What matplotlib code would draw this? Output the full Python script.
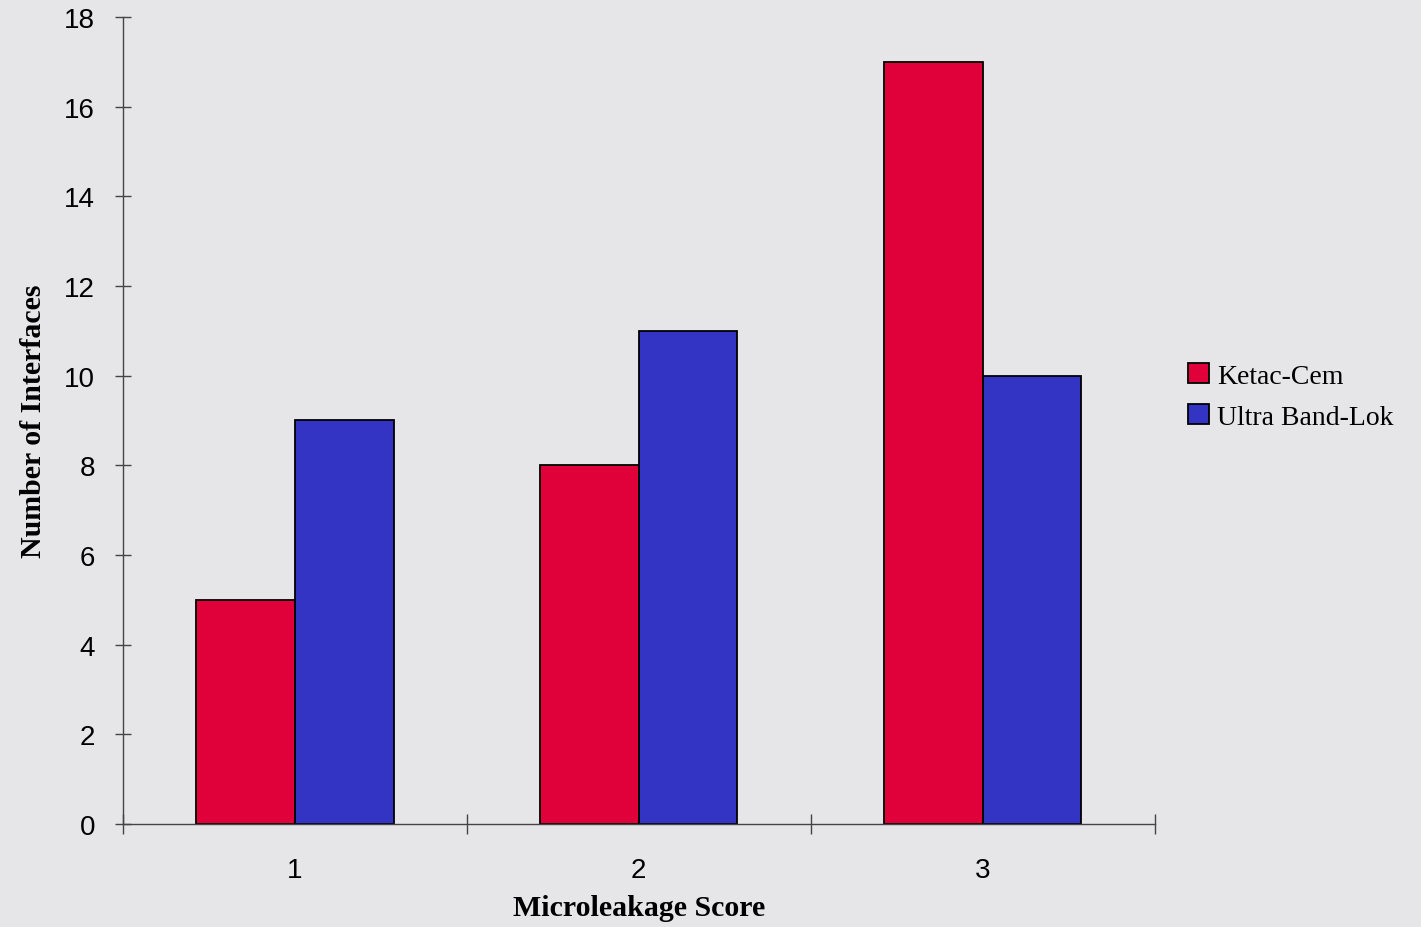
import numpy as np
import matplotlib
matplotlib.use("Agg")
import matplotlib.pyplot as plt

scores = ["1", "2", "3"]
ketac_cem = [5, 8, 17]
ultra_band_lok = [9, 11, 10]
series_names = ["Ketac-Cem", "Ultra Band-Lok"]

RED = "#e0003a"
BLUE = "#3434c4"
BG = "#e6e6e8"

fig = plt.figure(figsize=(14.21, 9.28), dpi=100, facecolor=BG)
ax = fig.add_axes([0.0865, 0.111, 0.726, 0.8696], facecolor=BG)

x = np.arange(1, len(scores) + 1)
w = 0.287
ax.bar(x - w / 2, ketac_cem, w, color=RED, edgecolor="black", linewidth=1.3,
       label=series_names[0])
ax.bar(x + w / 2, ultra_band_lok, w, color=BLUE, edgecolor="black", linewidth=1.3,
       label=series_names[1])

ax.set_xlim(0.5, 3.5)
ax.set_ylim(0, 18)
ax.set_yticks(range(0, 19, 2))
ax.set_xticks(x)
ax.set_xticklabels(scores)
ax.set_xticks([0.5, 1.5, 2.5, 3.5], minor=True)

for side in ["top", "right"]:
    ax.spines[side].set_visible(False)
for side in ["left", "bottom"]:
    ax.spines[side].set_color("#444444")
    ax.spines[side].set_linewidth(1.0)

ax.tick_params(axis="y", direction="inout", length=12, width=1, color="#444444",
               labelsize=20, pad=14)
ax.tick_params(axis="x", which="major", length=0, labelsize=20, pad=24)
ax.tick_params(axis="x", which="minor", direction="inout", length=14, width=1,
               color="#444444")
for lbl in ax.get_xticklabels() + ax.get_yticklabels():
    lbl.set_fontfamily("Liberation Sans")

ax.set_xlabel("Microleakage Score", fontfamily="Liberation Serif",
              fontweight="bold", fontsize=21.5, labelpad=8)
ax.set_ylabel("Number of Interfaces", fontfamily="Liberation Serif",
              fontweight="bold", fontsize=21.5, labelpad=12)

leg = ax.legend(loc="center left", bbox_to_anchor=(1.008, 0.53), frameon=False,
                prop={"family": "Liberation Serif", "size": 20},
                handlelength=0.75, handleheight=0.75, handletextpad=0.3,
                labelspacing=0.55)

fig.savefig("out.png", dpi=100, facecolor=BG)
